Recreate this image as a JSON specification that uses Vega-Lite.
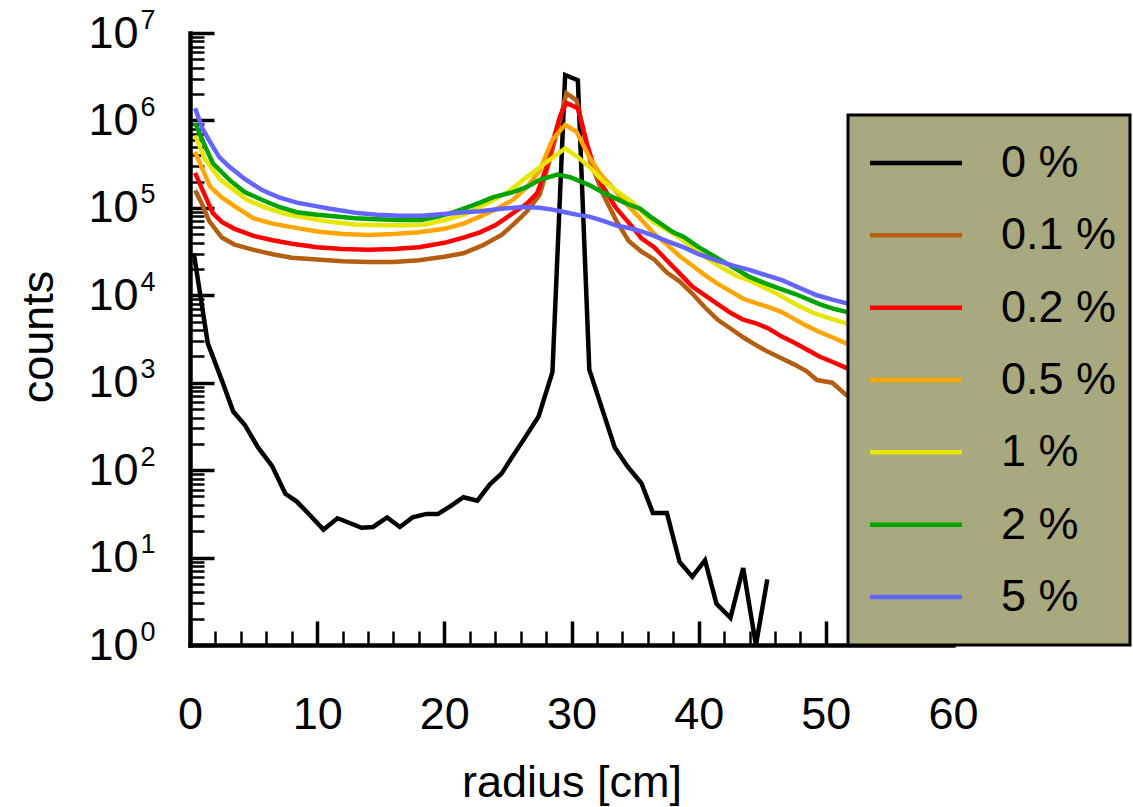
{
  "$schema": "https://vega.github.io/schema/vega-lite/v6.json",
  "width": 763,
  "height": 612,
  "autosize": {"type": "none"},
  "padding": {"left": 190, "top": 33, "right": 180, "bottom": 162},
  "background": "white",
  "config": {
    "view": {"stroke": null},
    "font": "Liberation Sans",
    "axis": {"grid": false, "labelFlush": false, "labelOverlap": false, "labelColor": "black", "titleColor": "black", "tickColor": "black", "domainColor": "black"}
  },
  "data": {
    "values": [
      {"c": "0 %", "r": 0.3, "v": 30200}, {"c": "0 %", "r": 1.4, "v": 2818}, {"c": "0 %", "r": 2.5, "v": 1072}, {"c": "0 %", "r": 3.4, "v": 468}, {"c": "0 %", "r": 4.3, "v": 331}, {"c": "0 %", "r": 5.35, "v": 182}, {"c": "0 %", "r": 6.45, "v": 112}, {"c": "0 %", "r": 7.5, "v": 53.7}, {"c": "0 %", "r": 8.4, "v": 43.7}, {"c": "0 %", "r": 9.4, "v": 30.9}, {"c": "0 %", "r": 10.5, "v": 20.9}, {"c": "0 %", "r": 11.6, "v": 28.2}, {"c": "0 %", "r": 12.3, "v": 25.7}, {"c": "0 %", "r": 13.5, "v": 21.9}, {"c": "0 %", "r": 14.4, "v": 22.4}, {"c": "0 %", "r": 15.5, "v": 28.8}, {"c": "0 %", "r": 16.5, "v": 22.4}, {"c": "0 %", "r": 17.5, "v": 28.8}, {"c": "0 %", "r": 18.6, "v": 31.6}, {"c": "0 %", "r": 19.5, "v": 31.6}, {"c": "0 %", "r": 20.4, "v": 38}, {"c": "0 %", "r": 21.5, "v": 49}, {"c": "0 %", "r": 22.6, "v": 44.7}, {"c": "0 %", "r": 23.6, "v": 69.2}, {"c": "0 %", "r": 24.5, "v": 91.2}, {"c": "0 %", "r": 25.2, "v": 132}, {"c": "0 %", "r": 26.2, "v": 219}, {"c": "0 %", "r": 27.4, "v": 407}, {"c": "0 %", "r": 28.5, "v": 1318}, {"c": "0 %", "r": 29.5, "v": 3311000}, {"c": "0 %", "r": 30.5, "v": 2884000}, {"c": "0 %", "r": 31.4, "v": 1413}, {"c": "0 %", "r": 33.4, "v": 182}, {"c": "0 %", "r": 34.4, "v": 110}, {"c": "0 %", "r": 35.5, "v": 70.8}, {"c": "0 %", "r": 36.4, "v": 32.4}, {"c": "0 %", "r": 37.5, "v": 32.4}, {"c": "0 %", "r": 38.5, "v": 8.91}, {"c": "0 %", "r": 39.5, "v": 6.03}, {"c": "0 %", "r": 40.5, "v": 9.33}, {"c": "0 %", "r": 41.4, "v": 2.95}, {"c": "0 %", "r": 42.5, "v": 2.04}, {"c": "0 %", "r": 43.5, "v": 7.59}, {"c": "0 %", "r": 44.5, "v": 1}, {"c": "0 %", "r": 45.4, "v": 5.62},

      {"c": "0.1 %", "r": 0.4, "v": 158500}, {"c": "0.1 %", "r": 0.9, "v": 114800}, {"c": "0.1 %", "r": 1.5, "v": 70790}, {"c": "0.1 %", "r": 2.5, "v": 45710}, {"c": "0.1 %", "r": 3.5, "v": 38020}, {"c": "0.1 %", "r": 5, "v": 33110}, {"c": "0.1 %", "r": 6.5, "v": 29510}, {"c": "0.1 %", "r": 8, "v": 26920}, {"c": "0.1 %", "r": 10, "v": 25700}, {"c": "0.1 %", "r": 12, "v": 24550}, {"c": "0.1 %", "r": 14, "v": 23990}, {"c": "0.1 %", "r": 16, "v": 23990}, {"c": "0.1 %", "r": 18, "v": 25120}, {"c": "0.1 %", "r": 20, "v": 27540}, {"c": "0.1 %", "r": 21.5, "v": 30200}, {"c": "0.1 %", "r": 23, "v": 37150}, {"c": "0.1 %", "r": 24.5, "v": 48980}, {"c": "0.1 %", "r": 25.5, "v": 66070}, {"c": "0.1 %", "r": 26.5, "v": 91200}, {"c": "0.1 %", "r": 27.5, "v": 141300}, {"c": "0.1 %", "r": 28.3, "v": 354800}, {"c": "0.1 %", "r": 29, "v": 891300}, {"c": "0.1 %", "r": 29.6, "v": 2042000}, {"c": "0.1 %", "r": 30.4, "v": 1698000}, {"c": "0.1 %", "r": 31, "v": 707900}, {"c": "0.1 %", "r": 31.5, "v": 331100}, {"c": "0.1 %", "r": 32.5, "v": 141300}, {"c": "0.1 %", "r": 33.5, "v": 72440}, {"c": "0.1 %", "r": 34.5, "v": 41690}, {"c": "0.1 %", "r": 35.5, "v": 31620}, {"c": "0.1 %", "r": 36.5, "v": 25700}, {"c": "0.1 %", "r": 37.5, "v": 18200}, {"c": "0.1 %", "r": 38.5, "v": 14450}, {"c": "0.1 %", "r": 39.5, "v": 10470}, {"c": "0.1 %", "r": 40.5, "v": 7244}, {"c": "0.1 %", "r": 41.5, "v": 5248}, {"c": "0.1 %", "r": 42.5, "v": 4169}, {"c": "0.1 %", "r": 43.5, "v": 3311}, {"c": "0.1 %", "r": 44.5, "v": 2692}, {"c": "0.1 %", "r": 45.5, "v": 2239}, {"c": "0.1 %", "r": 46.5, "v": 1905}, {"c": "0.1 %", "r": 47.5, "v": 1622}, {"c": "0.1 %", "r": 48.5, "v": 1349}, {"c": "0.1 %", "r": 49.3, "v": 1072}, {"c": "0.1 %", "r": 50.5, "v": 1000}, {"c": "0.1 %", "r": 51.6, "v": 724}, {"c": "0.1 %", "r": 52.5, "v": 603},

      {"c": "0.2 %", "r": 0.4, "v": 251200}, {"c": "0.2 %", "r": 1, "v": 158500}, {"c": "0.2 %", "r": 1.8, "v": 87100}, {"c": "0.2 %", "r": 2.5, "v": 69180}, {"c": "0.2 %", "r": 3.5, "v": 57540}, {"c": "0.2 %", "r": 5, "v": 47860}, {"c": "0.2 %", "r": 6.5, "v": 42660}, {"c": "0.2 %", "r": 8, "v": 38900}, {"c": "0.2 %", "r": 10, "v": 35480}, {"c": "0.2 %", "r": 12, "v": 33880}, {"c": "0.2 %", "r": 14, "v": 33110}, {"c": "0.2 %", "r": 16, "v": 33880}, {"c": "0.2 %", "r": 18, "v": 35480}, {"c": "0.2 %", "r": 20, "v": 39810}, {"c": "0.2 %", "r": 21.5, "v": 45710}, {"c": "0.2 %", "r": 22.8, "v": 52480}, {"c": "0.2 %", "r": 24, "v": 63100}, {"c": "0.2 %", "r": 25.4, "v": 87100}, {"c": "0.2 %", "r": 26.5, "v": 112200}, {"c": "0.2 %", "r": 27.3, "v": 147900}, {"c": "0.2 %", "r": 28, "v": 281800}, {"c": "0.2 %", "r": 28.5, "v": 549500}, {"c": "0.2 %", "r": 29.1, "v": 1122000}, {"c": "0.2 %", "r": 29.6, "v": 1585000}, {"c": "0.2 %", "r": 30.5, "v": 1380000}, {"c": "0.2 %", "r": 31.2, "v": 549500}, {"c": "0.2 %", "r": 31.8, "v": 281800}, {"c": "0.2 %", "r": 32.5, "v": 173800}, {"c": "0.2 %", "r": 33.5, "v": 100000}, {"c": "0.2 %", "r": 34.8, "v": 60260}, {"c": "0.2 %", "r": 35.5, "v": 44670}, {"c": "0.2 %", "r": 36.5, "v": 35480}, {"c": "0.2 %", "r": 37.5, "v": 25120}, {"c": "0.2 %", "r": 38.5, "v": 17780}, {"c": "0.2 %", "r": 39.5, "v": 12590}, {"c": "0.2 %", "r": 40.5, "v": 10000}, {"c": "0.2 %", "r": 41.5, "v": 7943}, {"c": "0.2 %", "r": 42.5, "v": 6310}, {"c": "0.2 %", "r": 43.5, "v": 5248}, {"c": "0.2 %", "r": 44.5, "v": 4786}, {"c": "0.2 %", "r": 45.5, "v": 4169}, {"c": "0.2 %", "r": 46.5, "v": 3388}, {"c": "0.2 %", "r": 47.5, "v": 2884}, {"c": "0.2 %", "r": 48.5, "v": 2399}, {"c": "0.2 %", "r": 49.5, "v": 1995}, {"c": "0.2 %", "r": 50.5, "v": 1738}, {"c": "0.2 %", "r": 51.6, "v": 1479}, {"c": "0.2 %", "r": 52.5, "v": 1259},

      {"c": "0.5 %", "r": 0.4, "v": 436500}, {"c": "0.5 %", "r": 0.9, "v": 295100}, {"c": "0.5 %", "r": 1.6, "v": 173800}, {"c": "0.5 %", "r": 2.5, "v": 131800}, {"c": "0.5 %", "r": 3.5, "v": 104700}, {"c": "0.5 %", "r": 5, "v": 75860}, {"c": "0.5 %", "r": 6.5, "v": 66070}, {"c": "0.5 %", "r": 8, "v": 60260}, {"c": "0.5 %", "r": 10, "v": 53700}, {"c": "0.5 %", "r": 12, "v": 50120}, {"c": "0.5 %", "r": 14, "v": 48980}, {"c": "0.5 %", "r": 16, "v": 50120}, {"c": "0.5 %", "r": 18, "v": 52480}, {"c": "0.5 %", "r": 20, "v": 57540}, {"c": "0.5 %", "r": 21.5, "v": 66070}, {"c": "0.5 %", "r": 22.8, "v": 79430}, {"c": "0.5 %", "r": 24, "v": 95500}, {"c": "0.5 %", "r": 25.4, "v": 123000}, {"c": "0.5 %", "r": 26.5, "v": 173800}, {"c": "0.5 %", "r": 27.5, "v": 269200}, {"c": "0.5 %", "r": 28.5, "v": 602600}, {"c": "0.5 %", "r": 29.5, "v": 891300}, {"c": "0.5 %", "r": 30.4, "v": 741300}, {"c": "0.5 %", "r": 31.4, "v": 380200}, {"c": "0.5 %", "r": 32.3, "v": 239900}, {"c": "0.5 %", "r": 33.3, "v": 166000}, {"c": "0.5 %", "r": 34.3, "v": 112200}, {"c": "0.5 %", "r": 35.4, "v": 75860}, {"c": "0.5 %", "r": 36.4, "v": 52480}, {"c": "0.5 %", "r": 37.5, "v": 38020}, {"c": "0.5 %", "r": 38.5, "v": 28180}, {"c": "0.5 %", "r": 39.5, "v": 21880}, {"c": "0.5 %", "r": 40.5, "v": 16980}, {"c": "0.5 %", "r": 41.5, "v": 13490}, {"c": "0.5 %", "r": 42.7, "v": 10720}, {"c": "0.5 %", "r": 43.5, "v": 9120}, {"c": "0.5 %", "r": 44.5, "v": 8128}, {"c": "0.5 %", "r": 45.4, "v": 7413}, {"c": "0.5 %", "r": 46.5, "v": 6457}, {"c": "0.5 %", "r": 47.5, "v": 5370}, {"c": "0.5 %", "r": 48.5, "v": 4467}, {"c": "0.5 %", "r": 49.5, "v": 3802}, {"c": "0.5 %", "r": 50.5, "v": 3311}, {"c": "0.5 %", "r": 51.6, "v": 2818}, {"c": "0.5 %", "r": 52.5, "v": 2512},

      {"c": "1 %", "r": 0.4, "v": 676100}, {"c": "1 %", "r": 1.2, "v": 354800}, {"c": "1 %", "r": 2.4, "v": 208900}, {"c": "1 %", "r": 3.5, "v": 158500}, {"c": "1 %", "r": 4.5, "v": 123000}, {"c": "1 %", "r": 6, "v": 100000}, {"c": "1 %", "r": 7.5, "v": 85110}, {"c": "1 %", "r": 9, "v": 77620}, {"c": "1 %", "r": 11, "v": 69180}, {"c": "1 %", "r": 13, "v": 64570}, {"c": "1 %", "r": 15, "v": 63100}, {"c": "1 %", "r": 17, "v": 63100}, {"c": "1 %", "r": 18.5, "v": 64570}, {"c": "1 %", "r": 20, "v": 72440}, {"c": "1 %", "r": 21.5, "v": 83180}, {"c": "1 %", "r": 22.8, "v": 102300}, {"c": "1 %", "r": 24, "v": 125900}, {"c": "1 %", "r": 25, "v": 151400}, {"c": "1 %", "r": 26.2, "v": 208900}, {"c": "1 %", "r": 27.2, "v": 269200}, {"c": "1 %", "r": 28.1, "v": 338800}, {"c": "1 %", "r": 29.5, "v": 478600}, {"c": "1 %", "r": 30.5, "v": 380200}, {"c": "1 %", "r": 31.4, "v": 295100}, {"c": "1 %", "r": 32.5, "v": 199500}, {"c": "1 %", "r": 33.8, "v": 147900}, {"c": "1 %", "r": 34.8, "v": 114800}, {"c": "1 %", "r": 35.8, "v": 83180}, {"c": "1 %", "r": 36.5, "v": 67610}, {"c": "1 %", "r": 37.5, "v": 56230}, {"c": "1 %", "r": 38.5, "v": 45710}, {"c": "1 %", "r": 39.5, "v": 35480}, {"c": "1 %", "r": 40.9, "v": 25120}, {"c": "1 %", "r": 42, "v": 19950}, {"c": "1 %", "r": 43, "v": 16600}, {"c": "1 %", "r": 44, "v": 14790}, {"c": "1 %", "r": 45, "v": 12590}, {"c": "1 %", "r": 46, "v": 10720}, {"c": "1 %", "r": 47, "v": 8913}, {"c": "1 %", "r": 48, "v": 7413}, {"c": "1 %", "r": 49, "v": 6310}, {"c": "1 %", "r": 50, "v": 5623}, {"c": "1 %", "r": 51.6, "v": 4786}, {"c": "1 %", "r": 52.5, "v": 4169},

      {"c": "2 %", "r": 0.4, "v": 933300}, {"c": "2 %", "r": 1.2, "v": 501200}, {"c": "2 %", "r": 1.8, "v": 323600}, {"c": "2 %", "r": 3.1, "v": 208900}, {"c": "2 %", "r": 4.3, "v": 151400}, {"c": "2 %", "r": 5.7, "v": 123000}, {"c": "2 %", "r": 7, "v": 102300}, {"c": "2 %", "r": 8.4, "v": 89130}, {"c": "2 %", "r": 10, "v": 83180}, {"c": "2 %", "r": 11.5, "v": 79430}, {"c": "2 %", "r": 13, "v": 75860}, {"c": "2 %", "r": 14.7, "v": 74130}, {"c": "2 %", "r": 16.5, "v": 72440}, {"c": "2 %", "r": 18.2, "v": 72440}, {"c": "2 %", "r": 19.5, "v": 79430}, {"c": "2 %", "r": 20.5, "v": 87100}, {"c": "2 %", "r": 21.7, "v": 100000}, {"c": "2 %", "r": 22.8, "v": 114800}, {"c": "2 %", "r": 23.8, "v": 131800}, {"c": "2 %", "r": 25.4, "v": 151400}, {"c": "2 %", "r": 26.5, "v": 173800}, {"c": "2 %", "r": 27.5, "v": 208900}, {"c": "2 %", "r": 28.9, "v": 239900}, {"c": "2 %", "r": 29.9, "v": 223900}, {"c": "2 %", "r": 31.4, "v": 182000}, {"c": "2 %", "r": 32.4, "v": 151400}, {"c": "2 %", "r": 33.3, "v": 131800}, {"c": "2 %", "r": 34.3, "v": 112200}, {"c": "2 %", "r": 35.4, "v": 97720}, {"c": "2 %", "r": 36.2, "v": 79430}, {"c": "2 %", "r": 37, "v": 66070}, {"c": "2 %", "r": 38, "v": 52480}, {"c": "2 %", "r": 38.8, "v": 46770}, {"c": "2 %", "r": 40, "v": 35480}, {"c": "2 %", "r": 41.4, "v": 26920}, {"c": "2 %", "r": 42.7, "v": 20890}, {"c": "2 %", "r": 44, "v": 16220}, {"c": "2 %", "r": 45, "v": 14130}, {"c": "2 %", "r": 46.3, "v": 12020}, {"c": "2 %", "r": 47.5, "v": 10470}, {"c": "2 %", "r": 48.5, "v": 9120}, {"c": "2 %", "r": 49.5, "v": 7943}, {"c": "2 %", "r": 50.5, "v": 7079}, {"c": "2 %", "r": 51.6, "v": 6457}, {"c": "2 %", "r": 52.5, "v": 5888},

      {"c": "5 %", "r": 0.4, "v": 1380000}, {"c": "5 %", "r": 1, "v": 794300}, {"c": "5 %", "r": 1.6, "v": 562300}, {"c": "5 %", "r": 2.3, "v": 380200}, {"c": "5 %", "r": 3.1, "v": 295100}, {"c": "5 %", "r": 4.3, "v": 213800}, {"c": "5 %", "r": 5.7, "v": 158500}, {"c": "5 %", "r": 7, "v": 131800}, {"c": "5 %", "r": 8.4, "v": 114800}, {"c": "5 %", "r": 9.9, "v": 104700}, {"c": "5 %", "r": 11, "v": 97720}, {"c": "5 %", "r": 13.2, "v": 87100}, {"c": "5 %", "r": 14.7, "v": 83180}, {"c": "5 %", "r": 16.5, "v": 81280}, {"c": "5 %", "r": 18.2, "v": 81280}, {"c": "5 %", "r": 20, "v": 85110}, {"c": "5 %", "r": 21.5, "v": 89130}, {"c": "5 %", "r": 22.8, "v": 91200}, {"c": "5 %", "r": 24.5, "v": 97720}, {"c": "5 %", "r": 26.2, "v": 102300}, {"c": "5 %", "r": 27.5, "v": 100000}, {"c": "5 %", "r": 28.5, "v": 95500}, {"c": "5 %", "r": 29.5, "v": 89130}, {"c": "5 %", "r": 30.5, "v": 83180}, {"c": "5 %", "r": 31.4, "v": 79430}, {"c": "5 %", "r": 32.5, "v": 70790}, {"c": "5 %", "r": 33.5, "v": 63100}, {"c": "5 %", "r": 34.5, "v": 58880}, {"c": "5 %", "r": 35.5, "v": 53700}, {"c": "5 %", "r": 36.5, "v": 47860}, {"c": "5 %", "r": 37.5, "v": 41690}, {"c": "5 %", "r": 38.8, "v": 35480}, {"c": "5 %", "r": 40, "v": 29510}, {"c": "5 %", "r": 41.4, "v": 25120}, {"c": "5 %", "r": 42.7, "v": 21880}, {"c": "5 %", "r": 44, "v": 19500}, {"c": "5 %", "r": 45.3, "v": 16980}, {"c": "5 %", "r": 46.6, "v": 14790}, {"c": "5 %", "r": 48, "v": 12020}, {"c": "5 %", "r": 49.3, "v": 10000}, {"c": "5 %", "r": 50.5, "v": 8913}, {"c": "5 %", "r": 51.6, "v": 8128}, {"c": "5 %", "r": 52.5, "v": 7413}
    ]
  },
  "layer": [
    {
      "mark": {"type": "line", "strokeWidth": 4.5},
      "encoding": {
        "x": {
          "field": "r", "type": "quantitative",
          "scale": {"domain": [0, 60], "nice": false, "zero": false},
          "axis": {
            "orient": "bottom", "values": [0, 10, 20, 30, 40, 50, 60], "format": "d",
            "ticks": false, "tickSize": 0, "domain": true, "domainWidth": 4.5, "domainCap": "square",
            "labelFont": "Liberation Sans", "labelFontSize": 45, "labelBaseline": "alphabetic", "labelPadding": 83,
            "title": "radius [cm]", "titleFont": "Liberation Sans", "titleFontSize": 45, "titleFontWeight": "normal",
            "titleX": 381.5, "titleY": 151, "titleAlign": "center", "titleBaseline": "alphabetic"
          }
        },
        "y": {
          "field": "v", "type": "quantitative",
          "scale": {"type": "log", "domain": [1, 10000000], "nice": false},
          "axis": {
            "orient": "left", "values": [1, 10, 100, 1000, 10000, 100000, 1000000, 10000000],
            "labelExpr": "'10'",
            "ticks": false, "tickSize": 0, "domain": true, "domainWidth": 4.5, "domainCap": "square",
            "labelFont": "Liberation Sans", "labelFontSize": 45, "labelAlign": "right", "labelBaseline": "middle", "labelPadding": 52,
            "title": "counts", "titleFont": "Liberation Sans", "titleFontSize": 45, "titleFontWeight": "normal",
            "titleAngle": -90, "titleX": -138, "titleY": 303.5, "titleAlign": "center", "titleBaseline": "alphabetic"
          }
        },
        "color": {
          "field": "c", "type": "nominal",
          "scale": {
            "domain": ["0 %", "0.1 %", "0.2 %", "0.5 %", "1 %", "2 %", "5 %"],
            "range": ["#000000", "#b35e10", "#ff0000", "#ffa500", "#e6e600", "#00a300", "#6464ff"]
          },
          "legend": {
            "title": null, "orient": "none", "legendX": 658, "legendY": 82, "zindex": 2,
            "fillColor": "#a9a97f", "strokeColor": "#000000", "padding": 13.5,
            "symbolType": "M-1.4264,0H1.4264M0,0.783",
            "symbolSize": 4160.25, "symbolStrokeWidth": 4.5, "symbolOffset": 20,
            "labelFont": "Liberation Sans", "labelFontSize": 45, "labelColor": "black", "labelOffset": 50.5, "labelLimit": 300,
            "rowPadding": 3.33,
            "encode": {"legend": {"update": {"strokeWidth": {"value": 3}}}, "symbols": {"update": {"fill": {"value": "transparent"}}}}
          }
        }
      }
    },
    {
      "mark": {"type": "point", "opacity": 0},
      "encoding": {
        "x": {
          "field": "r", "type": "quantitative",
          "scale": {"domain": [0, 60], "nice": false, "zero": false},
          "axis": {"orient": "bottom", "values": [0, 10, 20, 30, 40, 50, 60], "labels": false, "domain": false, "ticks": true, "tickSize": -24, "tickWidth": 3.5, "title": null}
        },
        "y": {
          "field": "v", "type": "quantitative",
          "scale": {"type": "log", "domain": [1, 10000000], "nice": false},
          "axis": {"orient": "left", "values": [1, 10, 100, 1000, 10000, 100000, 1000000, 10000000], "labels": false, "domain": false, "ticks": true, "tickSize": -24, "tickWidth": 3.5, "title": null}
        }
      }
    },
    {
      "mark": {"type": "point", "opacity": 0},
      "encoding": {
        "x": {
          "field": "r", "type": "quantitative",
          "scale": {"domain": [0, 60], "nice": false, "zero": false},
          "axis": {"orient": "bottom", "values": [2, 4, 6, 8, 12, 14, 16, 18, 22, 24, 26, 28, 32, 34, 36, 38, 42, 44, 46, 48, 52, 54, 56, 58], "labels": false, "domain": false, "ticks": true, "tickSize": -14, "tickWidth": 2.5, "title": null}
        },
        "y": {
          "field": "v", "type": "quantitative",
          "scale": {"type": "log", "domain": [1, 10000000], "nice": false},
          "axis": {"orient": "left", "values": [2, 3, 4, 5, 6, 7, 8, 9, 20, 30, 40, 50, 60, 70, 80, 90, 200, 300, 400, 500, 600, 700, 800, 900, 2000, 3000, 4000, 5000, 6000, 7000, 8000, 9000, 20000, 30000, 40000, 50000, 60000, 70000, 80000, 90000, 200000, 300000, 400000, 500000, 600000, 700000, 800000, 900000, 2000000, 3000000, 4000000, 5000000, 6000000, 7000000, 8000000, 9000000], "labels": false, "domain": false, "ticks": true, "tickSize": -14, "tickWidth": 2.5, "title": null}
        }
      }
    },
    {
      "mark": {"type": "point", "opacity": 0},
      "encoding": {
        "x": {"field": "r", "type": "quantitative", "scale": {"domain": [0, 60], "nice": false, "zero": false}, "axis": null},
        "y": {
          "field": "v", "type": "quantitative",
          "scale": {"type": "log", "domain": [1, 10000000], "nice": false},
          "axis": {
            "orient": "left", "values": [1, 10, 100, 1000, 10000, 100000, 1000000, 10000000],
            "labelExpr": "format(round(log(datum.value)/LN10),'d')",
            "ticks": false, "tickSize": 0, "domain": false,
            "labelFont": "Liberation Sans", "labelFontSize": 27, "labelAlign": "left", "labelBaseline": "middle", "labelPadding": 50, "labelOffset": -13,
            "title": null
          }
        }
      }
    }
  ],
  "resolve": {"axis": {"x": "independent", "y": "independent"}}
}
